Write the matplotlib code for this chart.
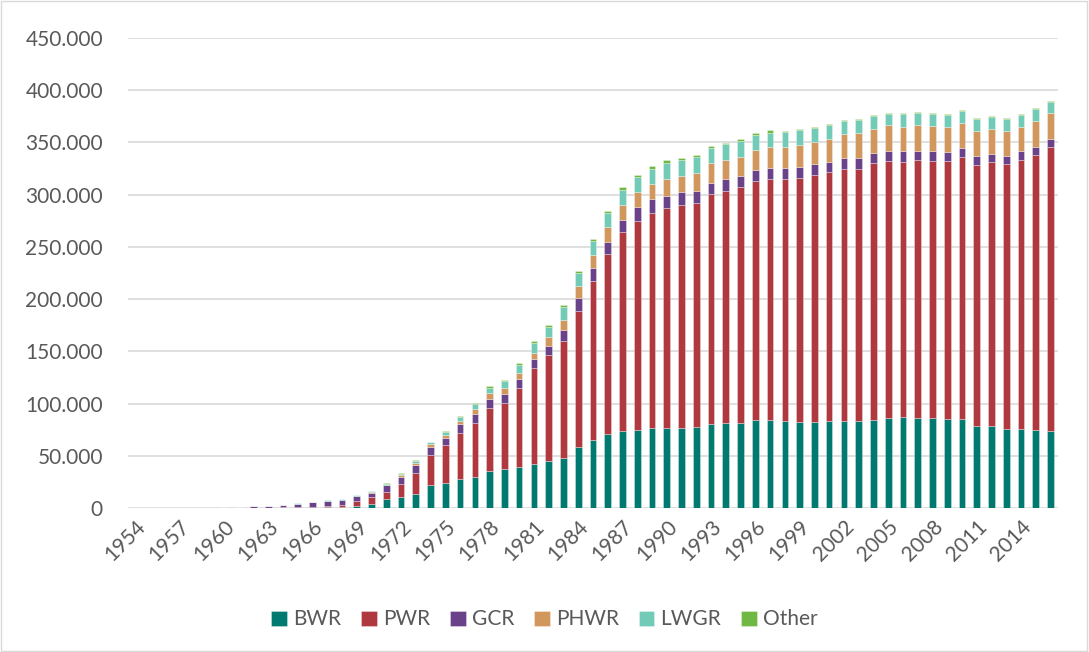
import numpy as np
import matplotlib.pyplot as plt
import matplotlib.ticker as ticker
from matplotlib.patches import Rectangle

plt.rcParams['font.family'] = ['Lato', 'DejaVu Sans']

years = list(range(1954, 2017))

# net capacity by reactor type, thousands of MW
bwr = [0, 0, 0, 0, 0, 0, 0.2, 0.2, 0.3, 0.3, 0.4, 0.4, 0.5, 0.8, 1.0, 2.5,
       4.1, 8.6, 11.2, 13.4, 22.0, 24.5, 27.7, 29.6, 35.7, 37.6, 39.2, 42.4,
       45.6, 48.4, 59.0, 65.0, 70.7, 73.9, 74.6, 76.8, 76.8, 76.8, 78.0, 80.9,
       81.5, 81.5, 84.1, 84.1, 83.5, 82.8, 82.8, 83.5, 83.5, 83.5, 84.7, 86.6,
       87.0, 86.6, 86.6, 85.1, 85.1, 78.7, 78.7, 76.1, 75.8, 75.1, 74.2]
pwr = [0, 0, 0, 0.06, 0.06, 0.06, 0.1, 0.2, 0.3, 0.3, 0.5, 0.5, 1.0, 1.5, 1.7, 4.5,
       6.4, 6.7, 11.7, 20.7, 29.3, 36.0, 44.0, 52.3, 59.9, 62.8, 76.2, 92.1,
       101.0, 111.6, 130.0, 152.3, 172.4, 190.0, 199.6, 205.2, 210.0, 213.2, 213.6, 219.3,
       222.1, 225.4, 228.5, 230.4, 231.0, 232.7, 235.6, 237.7, 241.2, 241.2, 245.1, 245.4,
       244.4, 246.1, 245.7, 246.6, 250.5, 249.2, 252.3, 253.3, 256.9, 263.0, 271.2]
gcr = [0, 0, 0.05, 0.2, 0.3, 0.6, 0.6, 0.7, 1.2, 1.6, 2.0, 3.5, 4.1, 4.8, 5.0, 4.5,
       4.5, 6.7, 7.3, 7.3, 7.7, 7.1, 8.6, 8.6, 8.9, 8.9, 8.6, 8.6,
       8.6, 10.5, 11.8, 12.2, 11.8, 11.4, 13.5, 13.7, 12.1, 12.1, 12.0, 11.1,
       11.2, 11.1, 11.1, 11.1, 10.8, 11.1, 10.5, 10.2, 10.5, 10.5, 10.2, 9.9,
       9.9, 9.2, 9.3, 9.2, 8.9, 8.9, 7.9, 7.7, 8.6, 7.7, 8.1]
phwr = [0, 0, 0, 0, 0, 0, 0, 0, 0.02, 0.02, 0.02, 0.02, 0.2, 0.2, 0.3, 0.3,
        0.6, 0.6, 1.6, 1.6, 2.2, 2.2, 2.9, 4.8, 5.8, 5.7, 5.7, 5.7,
        8.6, 9.5, 11.8, 12.4, 13.7, 14.2, 14.3, 14.3, 16.2, 15.9, 17.0, 18.5,
        18.2, 18.1, 18.8, 19.8, 20.4, 21.0, 21.6, 21.9, 22.6, 23.3, 22.9, 24.3,
        23.5, 24.3, 23.9, 23.9, 24.2, 24.2, 24.0, 23.9, 23.2, 24.5, 24.4]
lwgr = [0.005, 0.005, 0.005, 0.005, 0.1, 0.1, 0.1, 0.1, 0.1, 0.2, 0.3, 0.4, 0.4, 0.5, 0.5, 0.6,
        0.7, 1.0, 1.2, 2.6, 1.9, 3.2, 3.8, 4.4, 5.1, 6.4, 7.3, 9.6,
        9.9, 12.8, 12.1, 13.9, 13.4, 14.8, 14.7, 14.7, 15.3, 15.0, 15.2, 14.7,
        15.0, 15.0, 14.7, 13.7, 13.8, 13.8, 12.8, 13.4, 12.7, 13.2, 12.1, 11.1,
        11.9, 11.4, 11.2, 11.2, 10.9, 11.0, 11.1, 10.9, 11.3, 11.2, 10.6]
other = [0, 0, 0, 0, 0, 0, 0.05, 0.1, 0.2, 0.2, 0.2, 0.2, 0.2, 0.3, 0.3, 0.2,
         0.3, 0.3, 0.4, 0.6, 0.6, 0.9, 1.3, 1.0, 1.6, 1.3, 1.6, 1.6,
         1.6, 1.9, 2.2, 2.0, 2.5, 2.7, 2.3, 2.3, 2.3, 1.6, 1.7, 1.9,
         1.5, 1.7, 1.6, 2.3, 1.2, 1.2, 1.2, 1.0, 1.0, 0.5, 1.3, 0.9,
         0.9, 1.0, 0.9, 0.9, 0.9, 0.8, 0.8, 0.8, 0.8, 1.2, 1.2]

series = [('BWR', bwr, '#007A70'), ('PWR', pwr, '#B0393F'),
          ('GCR', gcr, '#694289'), ('PHWR', phwr, '#D1975C'),
          ('LWGR', lwgr, '#71CBB7'), ('Other', other, '#70B844')]

fig = plt.figure(figsize=(10.89, 6.52), dpi=100)
ax = fig.add_axes([0.1175, 0.2204, 0.854, 0.7219])

x = np.arange(len(years))
bottom = np.zeros(len(years))
for name, vals, col in series:
    vals = np.array(vals)
    ax.bar(x, vals, 0.45, bottom=bottom, color=col, label=name,
           edgecolor=(1, 1, 1, 0.45), linewidth=0.5, zorder=3)
    bottom += vals

ax.set_ylim(0, 450)
ax.set_xlim(-0.5, len(years) - 0.5)
ax.yaxis.set_major_locator(ticker.MultipleLocator(50))
ax.yaxis.set_major_formatter(
    ticker.FuncFormatter(lambda v, p: format(int(round(v * 1000)), ',').replace(',', '.')))
ax.grid(axis='y', color='#D9D9D9', linewidth=1.2, zorder=0)
for s in ['top', 'right', 'left', 'bottom']:
    ax.spines[s].set_visible(False)

ax.set_xticks(x[::3])
ax.set_xticklabels([str(y) for y in years[::3]], rotation=45, ha='right',
                   rotation_mode='anchor')
ax.tick_params(axis='both', length=0, labelsize=15, colors='#595959')
ax.tick_params(axis='x', pad=6)
ax.tick_params(axis='y', pad=18)

ax.legend(loc='center', bbox_to_anchor=(0.5, 0.05), bbox_transform=fig.transFigure,
          ncol=6, frameon=False, fontsize=15, handlelength=0.75, handleheight=0.75,
          handletextpad=0.3, columnspacing=0.95, labelcolor='#595959')

fig.patches.append(Rectangle((0.001, 0.001), 0.997, 0.997, transform=fig.transFigure,
                             fill=False, edgecolor='#D9D9D9', linewidth=1))

fig.savefig('out.png', dpi=100)
